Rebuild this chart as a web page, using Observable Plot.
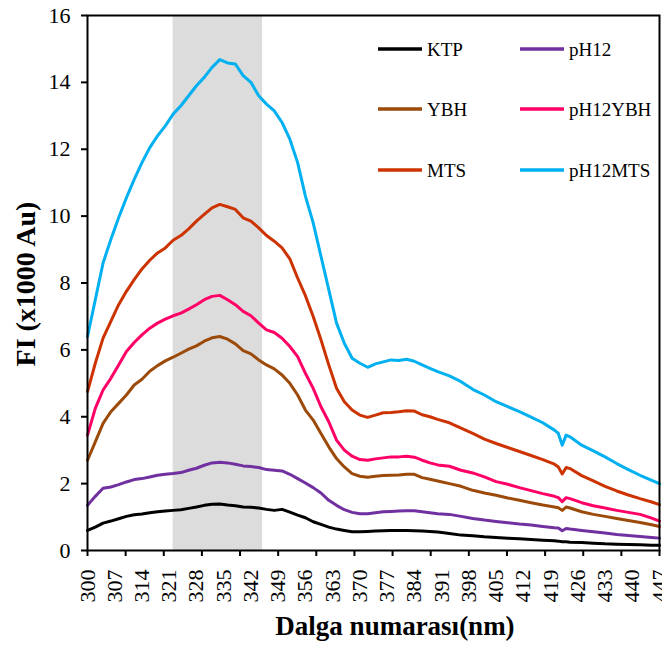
<!DOCTYPE html>
<html><head><meta charset="utf-8">
<script src="https://cdn.jsdelivr.net/npm/d3@7"></script>
<script src="https://cdn.jsdelivr.net/npm/@observablehq/plot@0.6"></script>
<style>body{margin:0;background:#fff} #chart{width:662px;height:650px}</style>
</head><body><div id="chart"></div>
<script>
const wavelengths = [300,302,304,306,308,310,312,314,316,318,320,322,324,326,328,330,332,334,336,338,340,342,344,346,348,350,352,354,356,358,360,362,364,366,368,370,372,374,376,378,380,382,384,386,388,390,393,396,399,402,405,408,411,414,417,420,421,422,423,424,427,430,433,436,439,442,445,447];
const KTP = [0.6,0.7,0.82,0.88,0.95,1.02,1.07,1.09,1.13,1.16,1.18,1.2,1.22,1.26,1.3,1.35,1.38,1.39,1.36,1.34,1.3,1.29,1.27,1.23,1.2,1.23,1.15,1.06,0.98,0.86,0.78,0.7,0.64,0.6,0.56,0.56,0.57,0.58,0.59,0.6,0.6,0.6,0.59,0.58,0.57,0.55,0.51,0.46,0.44,0.41,0.39,0.37,0.35,0.33,0.31,0.29,0.28,0.26,0.26,0.25,0.24,0.22,0.2,0.19,0.18,0.17,0.16,0.16];
const pH12 = [1.35,1.62,1.86,1.9,1.97,2.05,2.12,2.15,2.2,2.25,2.28,2.3,2.33,2.4,2.46,2.55,2.62,2.64,2.62,2.58,2.53,2.51,2.48,2.42,2.4,2.38,2.28,2.15,2.02,1.88,1.72,1.5,1.35,1.22,1.14,1.1,1.1,1.13,1.16,1.17,1.18,1.19,1.19,1.16,1.13,1.1,1.08,1.02,0.96,0.91,0.87,0.83,0.79,0.76,0.72,0.68,0.67,0.59,0.66,0.64,0.6,0.56,0.52,0.48,0.45,0.42,0.39,0.37];
const YBH = [2.7,3.25,3.8,4.15,4.4,4.65,4.95,5.12,5.36,5.53,5.67,5.78,5.9,6.02,6.12,6.26,6.36,6.4,6.32,6.18,5.98,5.88,5.7,5.55,5.43,5.25,5.0,4.65,4.2,3.9,3.5,3.1,2.75,2.5,2.3,2.22,2.19,2.22,2.24,2.25,2.26,2.28,2.28,2.18,2.13,2.08,2.0,1.92,1.8,1.72,1.65,1.57,1.5,1.43,1.36,1.3,1.28,1.2,1.3,1.27,1.16,1.08,1.02,0.96,0.9,0.84,0.77,0.72];
const pH12YBH = [3.45,4.25,4.8,5.15,5.55,5.95,6.22,6.45,6.65,6.8,6.92,7.02,7.1,7.22,7.35,7.5,7.6,7.63,7.5,7.35,7.15,7.02,6.8,6.6,6.52,6.35,6.1,5.8,5.3,4.85,4.3,3.85,3.3,3.0,2.82,2.72,2.7,2.74,2.77,2.8,2.8,2.82,2.79,2.7,2.62,2.56,2.52,2.4,2.32,2.2,2.06,1.98,1.88,1.79,1.7,1.62,1.58,1.46,1.58,1.55,1.43,1.34,1.27,1.2,1.14,1.08,0.97,0.88];
const MTS = [4.75,5.6,6.35,6.85,7.35,7.75,8.1,8.42,8.68,8.9,9.05,9.28,9.42,9.62,9.85,10.05,10.25,10.35,10.28,10.2,9.95,9.85,9.65,9.42,9.25,9.05,8.72,8.15,7.62,7.0,6.3,5.55,4.85,4.45,4.2,4.05,3.98,4.05,4.12,4.13,4.15,4.18,4.17,4.06,4.0,3.92,3.82,3.66,3.5,3.33,3.2,3.08,2.96,2.84,2.72,2.58,2.5,2.29,2.48,2.45,2.24,2.08,1.92,1.78,1.66,1.55,1.45,1.37];
const pH12MTS = [6.4,7.5,8.6,9.3,9.95,10.55,11.1,11.6,12.05,12.4,12.7,13.05,13.3,13.6,13.9,14.15,14.45,14.68,14.58,14.55,14.2,14.0,13.6,13.35,13.15,12.8,12.3,11.6,10.6,9.8,8.8,7.8,6.8,6.2,5.75,5.6,5.48,5.58,5.64,5.7,5.68,5.72,5.66,5.55,5.45,5.35,5.22,5.05,4.82,4.65,4.45,4.3,4.15,3.99,3.82,3.6,3.5,3.15,3.45,3.4,3.15,2.98,2.8,2.6,2.42,2.25,2.1,2.0];

const seriesNames = ["KTP","pH12","YBH","pH12YBH","MTS","pH12MTS"];
const seriesValues = [KTP, pH12, YBH, pH12YBH, MTS, pH12MTS];
const seriesColors = ["#000000","#7030a0","#9c4a0a","#ff0066","#cc3300","#00b0f0"];
const yTicks = [0,2,4,6,8,10,12,14,16];
const xTickLabels = [300,307,314,321,328,335,342,349,356,363,370,377,384,391,398,405,412,419,426,433,440,447];
const xTickMarks = [300,309.8,319.6,329.4,339.2,349,358.8,368.6,378.4,388.2,398,407.8,417.6,427.4,437.2,447];
const band = [{start: 322, end: 345}];
const xTitle = "Dalga numarası(nm)";
const yTitle = "FI (x1000 Au)";
const legendOrder = [["KTP","pH12"],["YBH","pH12YBH"],["MTS","pH12MTS"]];

const rows = seriesNames.flatMap((name, i) =>
  seriesValues[i].map((v, j) => ({nm: wavelengths[j], fi: v, series: name})));

const font = "'Liberation Serif','Times New Roman',serif";
const W = 662, H = 650;
const plot = Plot.plot({
  width: W, height: H,
  marginLeft: 87, marginRight: 3, marginTop: 15, marginBottom: 100,
  style: {fontFamily: font, fontSize: "22px", color: "#000", background: "#fff"},
  x: {domain: [300, 447]},
  y: {domain: [0, 16]},
  color: {domain: seriesNames, range: seriesColors},
  marks: [
    Plot.rect(band, {x1: "start", x2: "end", fill: "#dcdcdc"}),
    Plot.line(rows, {x: "nm", y: "fi", z: "series", stroke: "series", strokeWidth: 3, strokeLinejoin: "round"}),
    Plot.frame({stroke: "#000", strokeWidth: 2}),
    Plot.axisY({ticks: yTicks, tickSize: 6, tickPadding: 11, fontSize: 22, strokeWidth: 2, label: null}),
    Plot.axisX({ticks: xTickMarks, tickSize: 6, strokeWidth: 2, tickFormat: () => "", label: null}),
    Plot.axisX({ticks: xTickLabels, tickSize: 0, tickRotate: -90, tickPadding: 19, fontSize: 22, label: null, tickFormat: d => String(d)})
  ]
});
document.getElementById("chart").appendChild(plot);

const svg = d3.select(plot);
svg.append("text")
  .attr("x", 395).attr("y", 635)
  .attr("text-anchor", "middle")
  .style("font-family", font).style("font-weight", "bold").style("font-size", "27px")
  .text(xTitle);
svg.append("text")
  .attr("transform", "translate(35,284) rotate(-90)")
  .attr("text-anchor", "middle")
  .style("font-family", font).style("font-weight", "bold").style("font-size", "28px")
  .text(yTitle);

const leg = svg.append("g").attr("text-anchor", "start");
const colX = [378, 520], rowY = [49, 109, 170];
legendOrder.forEach((pair, r) => pair.forEach((name, c) => {
  const col = seriesColors[seriesNames.indexOf(name)];
  leg.append("line").attr("x1", colX[c]).attr("x2", colX[c] + 44)
    .attr("y1", rowY[r]).attr("y2", rowY[r])
    .attr("stroke", col).attr("stroke-width", 3.5);
  leg.append("text").attr("x", colX[c] + 49).attr("y", rowY[r] + 6.5)
    .attr("text-anchor", "start")
    .style("font-family", font).style("font-size", "19px").attr("fill", "#000")
    .text(name);
}));
</script></body></html>
